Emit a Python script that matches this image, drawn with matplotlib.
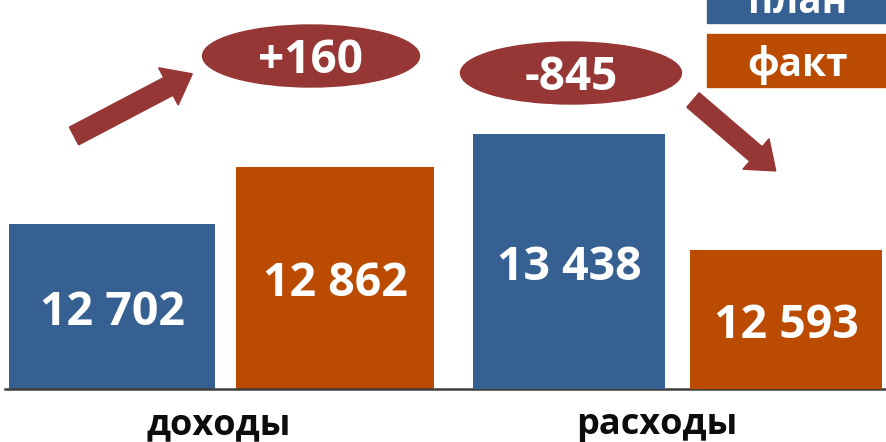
import matplotlib.pyplot as plt
from matplotlib.patches import Ellipse, FancyArrow, Rectangle

categories = ['доходы', 'расходы']
plan = [12702, 13438]
fact = [12862, 12593]
series_names = ['план', 'факт']

BLUE = '#366092'
ORANGE = '#BA4B00'
RED = '#963735'
FONT = ['Open Sans', 'DejaVu Sans']

plt.rcParams['font.family'] = FONT

fig = plt.figure(figsize=(8.87, 4.42), dpi=100)

# the two groups in the original use different vertical scales,
# so each group gets its own y axis (twinx) on the same x axis
ax = fig.add_axes([5 / 887, 53 / 442, 882 / 887, 389 / 442])
ax2 = ax.twinx()
ylims = [(12239, 13331), (11580, 14414)]

# bar offsets / widths per group (x unit = distance between group centres)
offs = [0.2456, 0.239]
widths = [(0.4537, 0.436), (0.423, 0.423)]
for i, a in enumerate([ax, ax2]):
    a.set_ylim(*ylims[i])
    lo = ylims[i][0]
    a.bar(i - offs[i], plan[i], width=widths[i][0], color=BLUE, zorder=2)
    a.bar(i + offs[i], fact[i], width=widths[i][1], color=ORANGE, zorder=2)
    for x, v in [(i - offs[i], plan[i]), (i + offs[i], fact[i])]:
        a.annotate(f'{v:,}'.replace(',', ' '), (x, (lo + v) / 2), xytext=(0, -13),
                   textcoords='offset points', ha='center', va='baseline',
                   color='white', fontsize=33.5, fontweight='bold')
    a.set_yticks([])

ax.set_xlim(-0.4813, 1.4615)
ax.set_xticks([-0.01, 0.955])
ax.set_xticklabels(categories, fontsize=26, fontweight='bold', color='#0D0D0D')
ax.tick_params(axis='x', length=0, pad=13)
for a in [ax, ax2]:
    for s in ['top', 'left', 'right']:
        a.spines[s].set_visible(False)
    a.spines['bottom'].set_color('#3F3F3F')
    a.spines['bottom'].set_linewidth(1.8)
ax2.spines['bottom'].set_visible(False)

# overlay in pixel coordinates for the shapes
ov = fig.add_axes([0, 0, 1, 1], zorder=5)
ov.set_xlim(0, 887)
ov.set_ylim(442, 0)
ov.axis('off')
ov.patch.set_alpha(0)

diffs = [f - p for p, f in zip(plan, fact)]
for (cx, cy, ew, eh), d in zip([(311, 56, 217, 62), (571, 73, 221, 62)], diffs):
    ov.add_patch(Ellipse((cx, cy), ew, eh, color=RED))
    ov.text(cx, cy + 17, f'{d:+d}', ha='center', va='baseline', color='white',
            fontsize=33, fontweight='bold')

ov.add_patch(FancyArrow(74, 136, 118 * 0.8, -62 * 0.8, width=20, head_width=42,
                        head_length=27, length_includes_head=False, color=RED))
ov.add_patch(FancyArrow(693, 100, 84 * 0.75, 72 * 0.75, width=19, head_width=40,
                        head_length=26, length_includes_head=False, color=RED))

# legend boxes, cut by the top edge
for (y0, yb), name, col in zip([(-30, 13), (34, 76)], series_names, [BLUE, ORANGE]):
    ov.add_patch(Rectangle((707, y0), 200, 53, color=col))
    ov.text(798, yb, name, ha='center', va='baseline', color='white',
            fontsize=28, fontweight='bold')

fig.savefig('out.png', dpi=100)
